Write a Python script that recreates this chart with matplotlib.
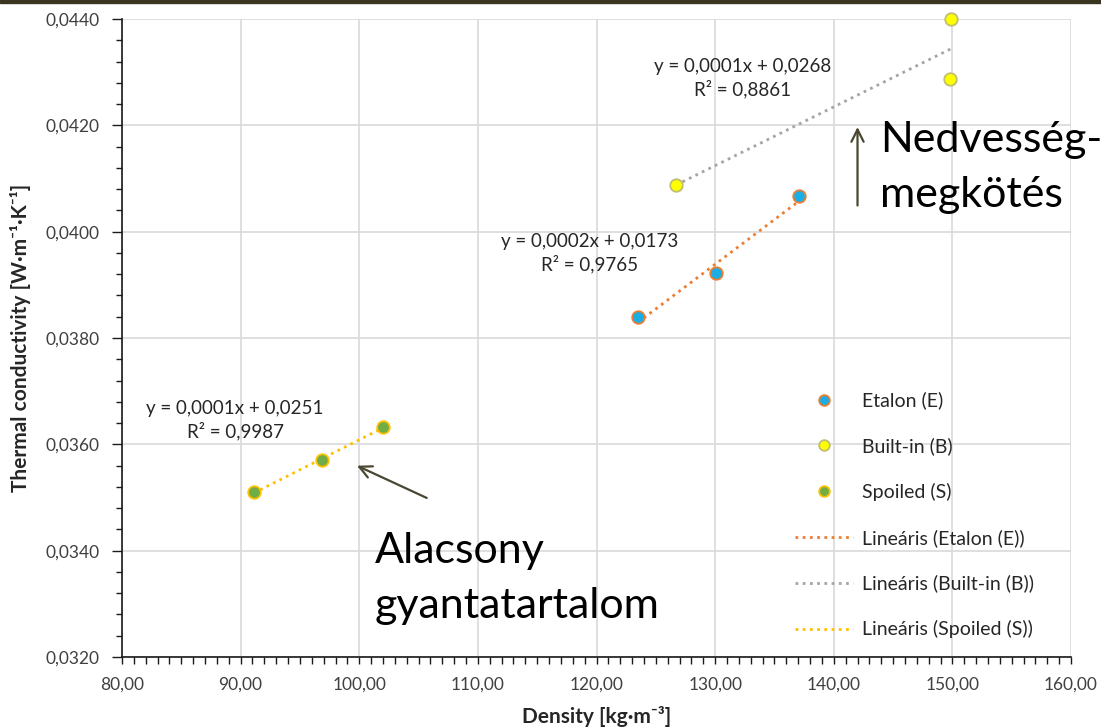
import numpy as np
import matplotlib
matplotlib.use("Agg")
import matplotlib.pyplot as plt
from matplotlib.ticker import MultipleLocator, FuncFormatter

plt.rcParams['font.family'] = ['Lato', 'DejaVu Sans']

# Data
etalon_x = [123.5, 130.1, 137.1]
etalon_y = [0.03839, 0.03922, 0.04067]
builtin_x = [126.7, 149.9, 149.8]
builtin_y = [0.04088, 0.04400, 0.04287]
spoiled_x = [91.1, 96.9, 102.0]
spoiled_y = [0.03510, 0.03570, 0.03633]

series_names = ["Etalon (E)", "Built-in (B)", "Spoiled (S)"]
trend_names = ["Lineáris (Etalon (E))", "Lineáris (Built-in (B))", "Lineáris (Spoiled (S))"]
equations = ["y = 0,0002x + 0,0173\nR² = 0,9765",
             "y = 0,0001x + 0,0268\nR² = 0,8861",
             "y = 0,0001x + 0,0251\nR² = 0,9987"]

fig = plt.figure(figsize=(11.01, 7.28), dpi=100)
ax = fig.add_axes([0.1108, 0.0975, 0.862, 0.8764])

fills = ['#1AAEE6', '#FFFF00', '#70AD47']
edges = ['#ED7D31', '#BFBF6F', '#FFC000']
tcols = ['#ED7D31', '#A5A5A5', '#FFC000']
data = [(etalon_x, etalon_y), (builtin_x, builtin_y), (spoiled_x, spoiled_y)]

handles_m, handles_t = [], []
for (xs, ys), fc, ec, tc, nm, tn in zip(data, fills, edges, tcols, series_names, trend_names):
    xs = np.array(xs); ys = np.array(ys)
    h, = ax.plot(xs, ys, 'o', ms=9, mfc=fc, mec=ec, mew=1.3, label=nm, zorder=4, clip_on=False)
    handles_m.append(h)
    k, b = np.polyfit(xs, ys, 1)
    xx = np.array([xs.min(), xs.max()])
    t, = ax.plot(xx, k * xx + b, ls=(0, (1, 1.6)), color=tc, lw=2.0, label=tn, zorder=3)
    handles_t.append(t)

ax.set_xlim(80, 160)
ax.set_ylim(0.032, 0.044)
ax.xaxis.set_major_locator(MultipleLocator(10))
ax.xaxis.set_minor_locator(MultipleLocator(1))
ax.yaxis.set_major_locator(MultipleLocator(0.002))
ax.yaxis.set_minor_locator(MultipleLocator(0.0004))
ax.xaxis.set_major_formatter(FuncFormatter(lambda v, p: f"{v:.2f}".replace('.', ',')))
ax.yaxis.set_major_formatter(FuncFormatter(lambda v, p: f"{v:.4f}".replace('.', ',')))
ax.grid(True, which='major', color='#D9D9D9', lw=1.2)
ax.set_axisbelow(True)
for s in ['top', 'right']:
    ax.spines[s].set_visible(False)
for s in ['left', 'bottom']:
    ax.spines[s].set_color('#1a1a1a')
    ax.spines[s].set_linewidth(1.2)
ax.tick_params(which='minor', direction='out', length=4, width=1, color='#1a1a1a')
ax.tick_params(which='major', direction='out', length=7, width=1, color='#1a1a1a',
               labelsize=12.5, labelcolor='#404040')
ax.tick_params(axis='y', which='major', pad=9)
ax.tick_params(axis='x', which='major', length=5, pad=9)
ax.tick_params(axis='x', which='minor', length=5)

ax.set_xlabel("Density [kg·m⁻³]", fontsize=15, fontweight='bold', color='#262626')
ax.set_ylabel("Thermal conductivity [W·m⁻¹·K⁻¹]", fontsize=15, fontweight='bold', color='#262626')
ax.xaxis.set_label_coords(0.5, -0.076)
ax.yaxis.set_label_coords(-0.096, 0.5)

# equations
eq_pos = [(119.45, 0.03959), (132.35, 0.04288), (89.53, 0.03646)]
for (ex, ey), eq in zip(eq_pos, equations):
    ax.text(ex, ey, eq, ha='center', va='center', fontsize=13.5, color='#262626', linespacing=1.3)

# annotations
acol = '#4A4630'
big = dict(fontsize=31, color='black', va='center', ha='left', family=['Lato', 'DejaVu Sans'])
ax.annotate('', xy=(142.0, 0.04202), xytext=(142.0, 0.04044),
            arrowprops=dict(arrowstyle='->', color=acol, lw=1.6, mutation_scale=22))
fig.text(880 / 1101, 1 - 140 / 728, "Nedvesség-", **big)
fig.text(880 / 1101, 1 - 195 / 728, "megkötés", **big)
ax.annotate('', xy=(99.6, 0.03562), xytext=(105.9, 0.03497),
            arrowprops=dict(arrowstyle='->', color=acol, lw=1.6, mutation_scale=22))
fig.text(375 / 1101, 1 - 551 / 728, "Alacsony", **big)
fig.text(375 / 1101, 1 - 606 / 728, "gyantatartalom", **big)

leg = ax.legend(handles_m + handles_t, series_names + trend_names, loc='upper left',
                bbox_to_anchor=(0.709, 0.416), frameon=False, fontsize=14,
                labelspacing=1.43, handlelength=3.0, handletextpad=0.45, markerscale=0.85,
                borderpad=0, borderaxespad=0)
for t in leg.get_texts():
    t.set_color('#262626')

# top dark band
fig.patches.append(plt.Rectangle((0, 1 - 3 / 728), 1, 3 / 728, transform=fig.transFigure,
                                 color='#3a3520', zorder=10))

fig.savefig("out.png", dpi=100)
